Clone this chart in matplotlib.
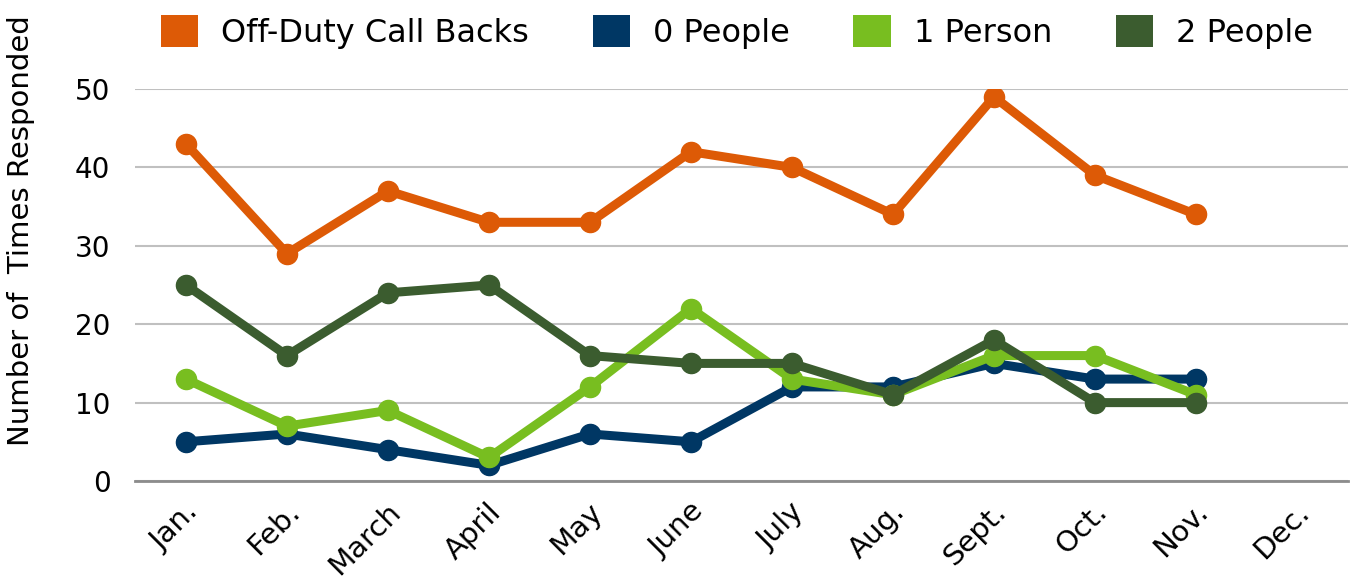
import numpy as np
import matplotlib.pyplot as plt
import matplotlib.transforms as mtransforms
from matplotlib.patches import Patch

months = ["Jan.", "Feb.", "March", "April", "May", "June", "July",
          "Aug.", "Sept.", "Oct.", "Nov.", "Dec."]
call_backs = [43, 29, 37, 33, 33, 42, 40, 34, 49, 39, 34]
zero_people = [5, 6, 4, 2, 6, 5, 12, 12, 15, 13, 13]
one_person = [13, 7, 9, 3, 12, 22, 13, 11, 16, 16, 11]
two_people = [25, 16, 24, 25, 16, 15, 15, 11, 18, 10, 10]

series = [
    ("Off-Duty Call Backs", call_backs, "#dd5a06"),
    ("0 People", zero_people, "#003764"),
    ("1 Person", one_person, "#78be20"),
    ("2 People", two_people, "#3b5c2f"),
]

plt.rcParams['font.family'] = ['DejaVu Sans']

fig = plt.figure(figsize=(13.52, 5.81), dpi=100)
ax = fig.add_axes([0.1002, 0.1721, 0.8965, 0.6747])

x = np.arange(len(months))
for name, vals, col in series:
    ax.plot(x[:len(vals)], vals, color=col, lw=6.5, marker="o", ms=14.5,
            solid_joinstyle="round", zorder=3)

ax.set_xlim(-0.5, 11.5)
ax.set_ylim(0, 50)
ax.set_yticks([0, 10, 20, 30, 40, 50])
ax.grid(axis="y", color="#c0c0c0", lw=1.5)
ax.set_axisbelow(True)
for s in ["top", "right", "left"]:
    ax.spines[s].set_visible(False)
ax.spines["bottom"].set_color("#8c8c8c")
ax.spines["bottom"].set_linewidth(2)
ax.tick_params(axis="y", length=0, labelsize=20, pad=18)
ax.set_xticks(x)
ax.set_xticklabels(months, rotation=45, ha="right", va="top", fontsize=21)
ax.tick_params(axis="x", length=0, pad=12)
shift = mtransforms.ScaledTranslation(18 / 100, 0, fig.dpi_scale_trans)
for lab in ax.get_xticklabels():
    lab.set_transform(lab.get_transform() + shift)
ax.set_ylabel("Number of  Times Responded", fontsize=21)
ax.yaxis.set_label_coords(-0.083, 0.64)

handles = [Patch(facecolor=c, label=n) for n, _, c in series]
fig.legend(handles=handles, loc="center", bbox_to_anchor=(0.545, 0.945),
           ncol=4, frameon=False, fontsize=23, handlelength=1.16,
           handleheight=1.16, handletextpad=0.72, columnspacing=2.0)

fig.savefig("out.png", dpi=100)
